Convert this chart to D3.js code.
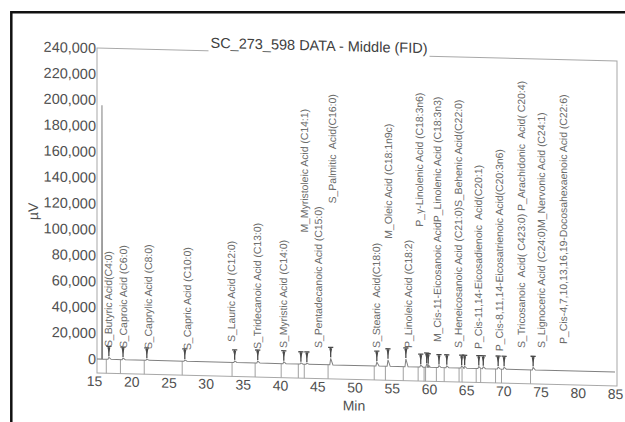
<!DOCTYPE html>
<html>
<head>
<meta charset="utf-8">
<script src="https://cdn.jsdelivr.net/npm/d3@7"></script>
<style>
  html, body { margin: 0; padding: 0; background: #fff; }
  svg { display: block; font-family: "Liberation Sans", Arial, sans-serif; }
</style>
</head>
<body>
<svg id="chart" width="625" height="422"></svg>
<script>
// ---- data -------------------------------------------------------------
const titleText = "SC_273_598 DATA - Middle (FID)";
const xTicks = [15, 20, 25, 30, 35, 40, 45, 50, 55, 60, 65, 70, 75, 80, 85];
const yTicks = [0, 20000, 40000, 60000, 80000, 100000, 120000, 140000,
                160000, 180000, 200000, 220000, 240000];

// solvent front (unlabelled)
const solventTime = 16.07;
const solventHeight = 196000;

// integrated peaks: retention time (min) and apex height (µV)
const peakTimes   = [17.0, 18.9, 22.1, 27.2, 33.9, 37.0, 40.5, 42.8, 43.6, 46.8,
                     53.0, 54.5, 56.9, 58.9, 59.7, 59.9, 61.35, 62.4, 64.4, 64.8,
                     66.7, 67.3, 69.3, 70.1, 74.0];
const peakHeights = [1500, 1200, 1000, 1000, 1200, 1500, 1500, 1000, 1000, 5000,
                     3000, 5000, 6000, 1500, 2500, 2000, 1500, 1500, 1500, 1500,
                     1500, 1500, 1500, 1500, 2000];

// peak names, with the time and signal level where each name starts
const labelTexts = [
  "S_Butyric Acid(C4:0)",
  "S_Caproic Acid (C6:0)",
  "S_Caprylic Acid (C8:0)",
  "S_Capric Acid (C10:0)",
  "S_Lauric Acid (C12:0)",
  "S_Tridecanoic Acid (C13:0)",
  "S_Myristic Acid (C14:0)",
  "M_Myristoleic Acid (C14:1)",
  "S_Pentadecanoic Acid (C15:0)",
  "S_Palmitic  Acid(C16:0)",
  "S_Stearic  Acid(C18:0)",
  "M_Oleic Acid (C18:1n9c)",
  "P_Linoleic Acid (C18:2)",
  "P_\u03b3-Linolenic Acid (C18:3n6)",
  "M_Cis-11-Eicosanoic AcidP_Linolenic Acid (C18:3n3)",
  "S_Heneicosanoic Acid (C21:0)S_Behenic Acid(C22:0)",
  "P_Cis-11,14-Eicosadienoic  Acid(C20:1)",
  "P_Cis-8,11,14-Eicosatrienoic Acid(C20:3n6)",
  "S_Tricosanoic  Acid( C423:0) P_Arachidonic  Acid( C20:4)",
  "S_Lignoceric Acid (C24:0)M_Nervonic Acid (C24:1)",
  "P_Cis-4,7,10,13,16,19-Docosahexaenoic Acid (C22:6)"
];
const labelTimes  = [16.9, 19.0, 22.3, 27.5, 33.5, 37.0, 40.4, 43.2, 45.1, 47.0,
                     52.9, 54.6, 57.3, 58.7, 61.1, 63.9, 66.6, 69.4, 72.4, 75.1, 78.0];
const labelLevels = [9500, 9000, 8700, 8700, 15800, 10800, 12100, 101600, 12800, 124600,
                     13900, 98500, 14600, 108400, 19700, 15500, 15100, 13900, 16700, 17100, 20600];

// ---- layout -------------------------------------------------------------
const W = 625, H = 422;
const frame = { left: 97, right: 617, top: 48, bottom: 373 };
const shear = 0.025;                       // page is slightly skewed
const shearDeg = Math.atan(shear) * 180 / Math.PI;

const svg = d3.select("#chart");
svg.append("rect").attr("width", W).attr("height", H).attr("fill", "#fff");

// outer border of the page
svg.append("path")
  .attr("d", `M11.3,${H} L11.3,12.3 L${W},12.3`)
  .attr("fill", "none").attr("stroke", "#111").attr("stroke-width", 2.5);

const g = svg.append("g")
  .attr("transform", `translate(0,${-frame.left * shear}) skewY(${shearDeg})`);

const x = d3.scaleLinear().domain([15, 85]).range([94, 615]);
const y = d3.scaleLinear().domain([0, 240000]).range([359, 48]);

// plot frame
g.append("rect")
  .attr("x", frame.left).attr("y", frame.top)
  .attr("width", frame.right - frame.left).attr("height", frame.bottom - frame.top)
  .attr("fill", "none").attr("stroke", "#a8a8a8").attr("stroke-width", 1);

// y axis labels
const yAxis = d3.axisLeft(y).tickValues(yTicks).tickSize(0).tickPadding(0)
  .tickFormat(d3.format(","));
g.append("g").attr("transform", "translate(96,0)").call(yAxis)
  .call(s => s.select(".domain").remove())
  .call(s => s.selectAll("text")
    .attr("font-size", "14.5px").attr("fill", "#505050")
    .attr("font-family", "'Liberation Sans', Arial, sans-serif"));

// x axis labels
const xAxis = d3.axisBottom(x).tickValues(xTicks).tickSize(0).tickPadding(0);
g.append("g").attr("transform", `translate(0,${frame.bottom + 3})`).call(xAxis)
  .call(s => s.select(".domain").remove())
  .call(s => s.selectAll("text")
    .attr("font-size", "14px").attr("fill", "#505050")
    .attr("font-family", "'Liberation Sans', Arial, sans-serif"));

// axis titles
g.append("text").attr("x", 354).attr("y", 404).attr("text-anchor", "middle")
  .attr("font-size", "14px").attr("fill", "#505050").text("Min");
g.append("text")
  .attr("transform", "translate(38,213) rotate(-90)")
  .attr("text-anchor", "middle").attr("font-size", "14px").attr("fill", "#505050")
  .text("\u00b5V");

// chart title sitting on the frame, with a white patch behind it
const title = g.append("text").attr("x", 319).attr("y", 45).attr("text-anchor", "middle")
  .attr("font-size", "14.5px").attr("fill", "#404040").text(titleText);
const tb = title.node().getBBox();
g.insert("rect", () => title.node())
  .attr("x", tb.x - 2).attr("y", tb.y).attr("width", tb.width + 4).attr("height", tb.height + 8)
  .attr("fill", "#fff");

// drop lines from the baseline down to the frame at each peak start
const dropLead = 0.35;
g.append("g").selectAll("line").data(peakTimes).join("line")
  .attr("x1", d => x(d - dropLead)).attr("x2", d => x(d - dropLead))
  .attr("y1", y(0)).attr("y2", frame.bottom)
  .attr("stroke", "#a0a0a0").attr("stroke-width", 1);

// chromatogram trace
const rise = 0.12, fall = 0.3;
const tracePts = [[15.4, 0]];
const allPeaks = [[solventTime, solventHeight, 0.04, 0.08]]
  .concat(peakTimes.map((t, i) => [t, peakHeights[i], rise, fall]));
allPeaks.sort((a, b) => a[0] - b[0]);
allPeaks.forEach(([t, h, r, f]) => {
  tracePts.push([t - r, 0], [t, h], [t + f, 0]);
});
tracePts.push([85, 0]);
g.append("path")
  .attr("d", d3.line().x(d => x(d[0])).y(d => y(d[1]))(tracePts))
  .attr("fill", "none").attr("stroke", "#808080").attr("stroke-width", 1);

// apex markers
const mk = g.append("g").selectAll("g").data(peakTimes).join("g")
  .attr("transform", (d, i) => `translate(${x(d)},${y(peakHeights[i])})`);
mk.append("path")
  .attr("d", "M-2.6,-11 L2.6,-11 M0,-11 L0,-1")
  .attr("stroke", "#4a4a4a").attr("stroke-width", 1.3).attr("fill", "none");
mk.append("path")
  .attr("d", "M-1.5,-10 L1.5,-10 L0,-4 Z")
  .attr("fill", "#4a4a4a");

// peak names
g.append("g").selectAll("text").data(labelTexts).join("text")
  .attr("transform", (d, i) => `translate(${x(labelTimes[i])},${y(labelLevels[i])}) rotate(-90)`)
  .attr("dy", "0.35em")
  .attr("font-size", "10.4px").attr("fill", "#6a6a6a")
  .style("white-space", "pre")
  .text(d => d);
</script>
</body>
</html>
